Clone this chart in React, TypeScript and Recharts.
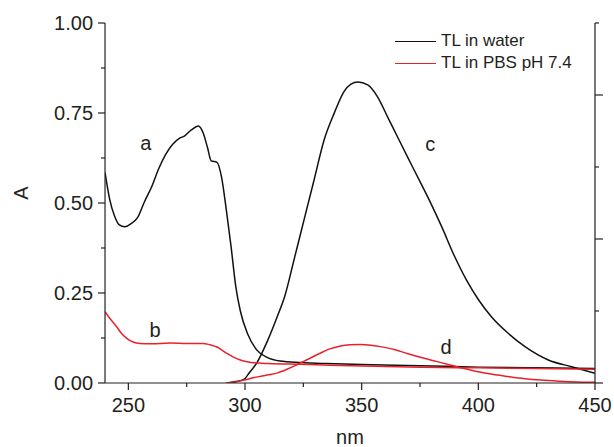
import React from 'react';
import {
  LineChart, Line, XAxis, YAxis, Legend, ReferenceDot,
} from 'recharts';

// absorption spectra (a: water, b: PBS)
const waterAbsNm = [240, 242, 244, 246, 248.5, 251, 254, 257, 260, 263, 266, 269, 272, 274, 277, 280, 282, 284, 285.5, 288, 290, 292, 294, 296, 298, 301, 305, 309.5, 315, 324, 335, 350, 375, 400, 425, 450];
const waterAbs = [0.585, 0.51, 0.465, 0.44, 0.434, 0.442, 0.46, 0.505, 0.545, 0.595, 0.635, 0.663, 0.68, 0.686, 0.703, 0.714, 0.696, 0.652, 0.617, 0.613, 0.57, 0.48, 0.38, 0.27, 0.2, 0.138, 0.092, 0.071, 0.061, 0.057, 0.054, 0.051, 0.048, 0.044, 0.042, 0.04];

const pbsAbsNm = [240, 242, 245, 247, 249.3, 252, 255, 260, 268, 275, 282, 285, 288, 290, 292.3, 295, 298, 301, 304, 310, 324, 350, 375, 400, 425, 450];
const pbsAbs = [0.198, 0.18, 0.156, 0.138, 0.124, 0.114, 0.11, 0.109, 0.111, 0.11, 0.11, 0.106, 0.1, 0.092, 0.082, 0.072, 0.064, 0.059, 0.056, 0.054, 0.052, 0.047, 0.044, 0.042, 0.04, 0.038];

// emission-like bands (c: water, d: PBS)
const waterEmNm = [292, 296, 299.5, 302, 305, 309.5, 313.8, 317, 321, 325.3, 329.6, 333.9, 338.2, 342.5, 345.4, 348.3, 352.6, 356.8, 361.2, 365.5, 369.8, 375.5, 379.8, 384.1, 389.8, 395, 400, 405.6, 412.8, 420, 430, 440, 450];
const waterEm = [0, 0.004, 0.01, 0.03, 0.055, 0.115, 0.184, 0.24, 0.342, 0.453, 0.564, 0.675, 0.749, 0.81, 0.83, 0.836, 0.828, 0.795, 0.738, 0.682, 0.626, 0.553, 0.497, 0.437, 0.352, 0.285, 0.232, 0.184, 0.138, 0.101, 0.064, 0.045, 0.027];

const pbsEmNm = [292, 296, 299.5, 304, 309.5, 314, 318, 322, 327, 332, 336, 341, 345, 349.5, 354, 358, 364, 369.5, 376, 382, 388, 394, 400, 406, 412.6, 420, 427, 435, 442, 450];
const pbsEm = [0, 0.003, 0.008, 0.015, 0.022, 0.028, 0.038, 0.05, 0.066, 0.082, 0.094, 0.103, 0.106, 0.107, 0.105, 0.101, 0.093, 0.082, 0.07, 0.06, 0.05, 0.04, 0.031, 0.024, 0.018, 0.012, 0.008, 0.005, 0.003, 0.002];

const xTicks = [250, 300, 350, 400, 450];
const xMinorTicks = [275, 325, 375, 425];
const yTicks = [0, 0.25, 0.5, 0.75, 1];
const yMinorTicks = [0.125, 0.375, 0.625, 0.875];
const rightMajor = [0, 2, 4];
const rightMinor = [1, 3, 5];

const curveLabels = [
  { text: 'a', nm: 257.5, A: 0.666 },
  { text: 'b', nm: 261.5, A: 0.147 },
  { text: 'c', nm: 379.4, A: 0.664 },
  { text: 'd', nm: 386.2, A: 0.101 },
];

const legendItems = [
  { label: 'TL in water', color: '#111111' },
  { label: 'TL in PBS pH 7.4', color: '#e8212a' },
];

const BLACK = '#111111';
const RED = '#e8212a';
const AXIS = '#231f20';
const FONT = '"Liberation Sans", Arial, sans-serif';
const THIN = 0.01; // axes need a non-zero size to render, layout comes from the margins

const toPoints = (xs: number[], ys: number[]) => xs.map((nm, i) => ({ nm, A: ys[i] }));

const tickStyle = { fill: AXIS, fontSize: 20, fontFamily: FONT };
const lineStyle = { stroke: AXIS, strokeWidth: 1.2 };
const noLabel = () => <g />;

function LegendBox() {
  return (
    <div style={{ fontFamily: FONT, fontSize: 17, color: AXIS, lineHeight: '22px' }}>
      {legendItems.map(it => (
        <div key={it.label} style={{ display: 'flex', alignItems: 'center' }}>
          <span style={{ display: 'inline-block', width: 41, height: 0, borderTop: `1.5px solid ${it.color}`, marginRight: 5 }} />
          <span>{it.label}</span>
        </div>
      ))}
    </div>
  );
}

export default function App() {
  return (
    <div style={{ position: 'absolute', left: 0, top: 0, background: '#fff' }}>
      <LineChart width={614} height={447} margin={{ top: 23, right: 19, bottom: 64, left: 105 }}>
        <XAxis
          xAxisId="minor" type="number" dataKey="nm" domain={[240, 450]} allowDataOverflow
          ticks={xMinorTicks} interval={0} tick={noLabel} tickSize={4} axisLine={false} height={THIN} tickLine={lineStyle}
        />
        <XAxis
          type="number" dataKey="nm" domain={[240, 450]} allowDataOverflow ticks={xTicks} interval={0}
          tick={tickStyle} tickSize={7} tickMargin={8} height={THIN}
          axisLine={lineStyle} tickLine={lineStyle}
          label={({ viewBox }: any) => (
            <text x={viewBox.x + viewBox.width / 2} y={444} textAnchor="middle" fill={AXIS} fontSize={20} fontFamily={FONT}>nm</text>
          )}
        />
        <YAxis
          yAxisId="minor" type="number" domain={[0, 1]} allowDataOverflow ticks={yMinorTicks} interval={0}
          tick={noLabel} tickSize={4} axisLine={false} width={THIN} tickLine={lineStyle}
        />
        <YAxis
          type="number" domain={[0, 1]} allowDataOverflow ticks={yTicks} interval={0}
          tickFormatter={(v: number) => v.toFixed(2)} tick={tickStyle} tickSize={7} tickMargin={5} width={THIN}
          axisLine={lineStyle} tickLine={lineStyle}
          label={() => (
            <text x={28} y={193} transform="rotate(-90, 28, 193)" textAnchor="middle" fill={AXIS} fontSize={20} fontFamily={FONT}>A</text>
          )}
        />
        <YAxis
          yAxisId="r1" orientation="right" type="number" domain={[0, 5]} allowDataOverflow ticks={rightMajor} interval={0}
          tick={noLabel} tickSize={8} width={THIN} axisLine={lineStyle} tickLine={lineStyle}
        />
        <YAxis
          yAxisId="r2" orientation="right" type="number" domain={[0, 5]} allowDataOverflow ticks={rightMinor} interval={0}
          tick={noLabel} tickSize={4} axisLine={false} width={THIN} tickLine={lineStyle}
        />
        <Legend
          layout="vertical" align="center" verticalAlign="middle"
          wrapperStyle={{ position: 'absolute', left: 395, top: 30, width: 'auto', height: 'auto' }}
          content={() => <LegendBox />}
        />
        <Line data={toPoints(waterAbsNm, waterAbs)} dataKey="A" type="monotone" stroke={BLACK} strokeWidth={1.5} dot={false} isAnimationActive={false} legendType="none" />
        <Line data={toPoints(waterEmNm, waterEm)} dataKey="A" type="monotone" stroke={BLACK} strokeWidth={1.5} dot={false} isAnimationActive={false} name="TL in water" />
        <Line data={toPoints(pbsAbsNm, pbsAbs)} dataKey="A" type="monotone" stroke={RED} strokeWidth={1.5} dot={false} isAnimationActive={false} legendType="none" />
        <Line data={toPoints(pbsEmNm, pbsEm)} dataKey="A" type="monotone" stroke={RED} strokeWidth={1.5} dot={false} isAnimationActive={false} name="TL in PBS pH 7.4" />
        {curveLabels.map(l => (
          <ReferenceDot
            key={l.text} x={l.nm} y={l.A} r={0}
            shape={(p: any) => (
              <text x={p.cx} y={p.cy} textAnchor="middle" dominantBaseline="central" fill={AXIS} fontSize={20} fontFamily={FONT}>{l.text}</text>
            )}
          />
        ))}
      </LineChart>
    </div>
  );
}
